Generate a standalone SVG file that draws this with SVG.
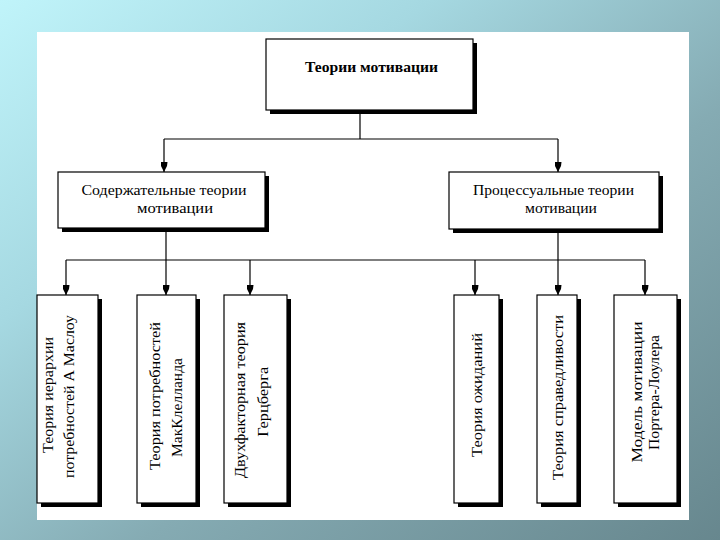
<svg xmlns="http://www.w3.org/2000/svg" width="720" height="540" viewBox="0 0 720 540">
  <defs>
    <linearGradient id="bg" x1="0" y1="0" x2="1" y2="1">
      <stop offset="0" stop-color="#c0f4fa"/>
      <stop offset="0.3" stop-color="#a5d8e1"/>
      <stop offset="0.6" stop-color="#85abb3"/>
      <stop offset="1" stop-color="#67878e"/>
    </linearGradient>
    <marker id="arr" markerUnits="userSpaceOnUse" markerWidth="10" markerHeight="7" refX="10" refY="3.5" orient="auto" viewBox="0 0 10 7">
      <path d="M0,0 L4,0.5 L10,3.5 L4,6.5 L0,7 Z" fill="#000"/>
    </marker>
  </defs>
  <style>
    .box { fill: #fff; stroke: #000; stroke-width: 1.2; }
    .sh { fill: #000; }
    .t { font-family: "Liberation Serif", "Times New Roman", serif; font-size: 15px; fill: #000; text-anchor: middle; }
    .b { font-weight: bold; }
    .ln { stroke: #000; stroke-width: 1.2; fill: none; }
    .ar { marker-end: url(#arr); }
  </style>
  <rect x="0" y="0" width="720" height="540" fill="url(#bg)"/>
  <rect x="37" y="32" width="652" height="488" fill="#fff"/>

  <g id="connectors">
    <path class="ln" d="M360,113 V139"/>
    <path class="ln" d="M164,139 H558"/>
    <path class="ln ar" d="M164,139 V172"/>
    <path class="ln ar" d="M558,139 V172"/>
    <path class="ln" d="M166,232 V260"/>
    <path class="ln" d="M558,233 V260"/>
    <path class="ln" d="M66,260 H645"/>
    <path class="ln ar" d="M66,260 V295"/>
    <path class="ln ar" d="M166,260 V295"/>
    <path class="ln ar" d="M250,260 V295"/>
    <path class="ln ar" d="M475,260 V295"/>
    <path class="ln ar" d="M558,260 V295"/>
    <path class="ln ar" d="M645,260 V295"/>
  </g>

  <g id="root">
    <rect class="sh" x="270" y="43" width="207" height="71"/>
    <rect class="box" x="266" y="39" width="207" height="71"/>
    <text class="t b" x="371.5" y="72" textLength="133" lengthAdjust="spacingAndGlyphs">Теории мотивации</text>
  </g>

  <g id="content">
    <rect class="sh" x="62" y="176" width="207" height="56"/>
    <rect class="box" x="58" y="172" width="207" height="56"/>
    <text class="t" x="164" y="195" textLength="165" lengthAdjust="spacingAndGlyphs">Содержательные теории</text>
    <text class="t" x="175" y="213" textLength="76" lengthAdjust="spacingAndGlyphs">мотивации</text>
  </g>

  <g id="process">
    <rect class="sh" x="453" y="176" width="210" height="57"/>
    <rect class="box" x="449" y="172" width="210" height="57"/>
    <text class="t" x="553.5" y="195" textLength="161" lengthAdjust="spacingAndGlyphs">Процессуальные теории</text>
    <text class="t" x="561" y="213" textLength="72" lengthAdjust="spacingAndGlyphs">мотивации</text>
  </g>

  <g id="maslow">
    <rect class="sh" x="41" y="299" width="61" height="208"/>
    <rect class="box" x="37" y="295" width="61" height="208"/>
    <text class="t" transform="translate(53,395) rotate(-90)" textLength="116" lengthAdjust="spacingAndGlyphs">Теория иерархии</text>
    <text class="t" transform="translate(74,396.5) rotate(-90)" textLength="163" lengthAdjust="spacingAndGlyphs">потребностей А Маслоу</text>
  </g>

  <g id="mcclelland">
    <rect class="sh" x="141" y="299" width="59" height="208"/>
    <rect class="box" x="137" y="295" width="59" height="208"/>
    <text class="t" transform="translate(160,396) rotate(-90)" textLength="148" lengthAdjust="spacingAndGlyphs">Теория потребностей</text>
    <text class="t" transform="translate(181.5,407.5) rotate(-90)" textLength="99" lengthAdjust="spacingAndGlyphs">МакКлелланда</text>
  </g>

  <g id="herzberg">
    <rect class="sh" x="228" y="299" width="63" height="208"/>
    <rect class="box" x="224" y="295" width="63" height="208"/>
    <text class="t" transform="translate(245,400) rotate(-90)" textLength="156" lengthAdjust="spacingAndGlyphs">Двухфакторная теория</text>
    <text class="t" transform="translate(268,401.7) rotate(-90)" textLength="70" lengthAdjust="spacingAndGlyphs">Герцберга</text>
  </g>

  <g id="expectancy">
    <rect class="sh" x="458" y="299" width="45" height="208"/>
    <rect class="box" x="454" y="295" width="45" height="208"/>
    <text class="t" transform="translate(481.5,395) rotate(-90)" textLength="124" lengthAdjust="spacingAndGlyphs">Теория ожиданий</text>
  </g>

  <g id="equity">
    <rect class="sh" x="541" y="299" width="40" height="208"/>
    <rect class="box" x="537" y="295" width="40" height="208"/>
    <text class="t" transform="translate(563,397.5) rotate(-90)" textLength="165" lengthAdjust="spacingAndGlyphs">Теория справедливости</text>
  </g>

  <g id="porter-lawler">
    <rect class="sh" x="618" y="299" width="63" height="208"/>
    <rect class="box" x="614" y="295" width="63" height="208"/>
    <text class="t" transform="translate(641.5,392) rotate(-90)" textLength="141" lengthAdjust="spacingAndGlyphs">Модель мотивации</text>
    <text class="t" transform="translate(659,392.5) rotate(-90)" textLength="115" lengthAdjust="spacingAndGlyphs">Портера-Лоулера</text>
  </g>
</svg>
